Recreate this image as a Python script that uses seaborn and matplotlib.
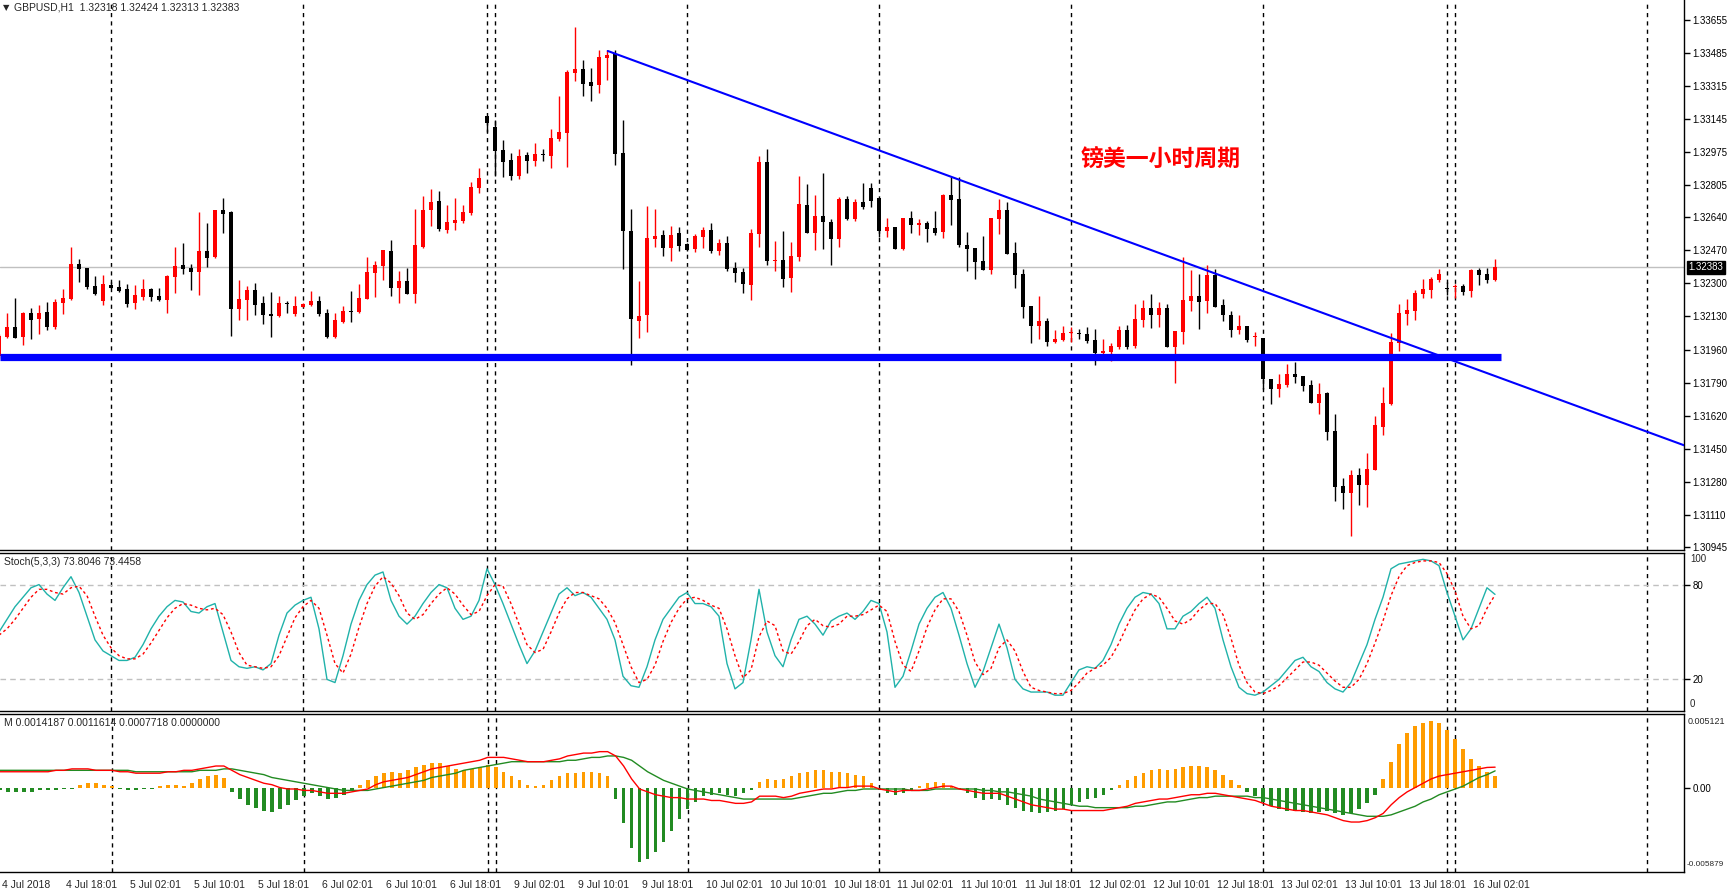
import numpy as np
import pandas as pd
import matplotlib
matplotlib.use('Agg')
import matplotlib.pyplot as plt
import matplotlib.transforms as mtransforms
import seaborn as sns

# GBPUSD H1 bars, 4 Jul 2018 10:00 .. 16 Jul 2018 05:00
opens = [
    1.31927, 1.32025, 1.32076, 1.32025, 1.32147, 1.32116, 1.32152, 1.32076, 1.32199, 1.32219,
    1.32398, 1.32378, 1.32286, 1.32209, 1.32291, 1.32281, 1.32271, 1.32199, 1.32230, 1.32271,
    1.32235, 1.32214, 1.32332, 1.32394, 1.32378, 1.32358, 1.32466, 1.32435, 1.32677, 1.32666,
    1.32168, 1.32214, 1.32266, 1.32199, 1.32142, 1.32132, 1.32199, 1.32142, 1.32178, 1.32188,
    1.32209, 1.32147, 1.32025, 1.32101, 1.32158, 1.32152, 1.32219, 1.32353, 1.32389, 1.32466,
    1.32276, 1.32312, 1.32245, 1.32485, 1.32677, 1.32723, 1.32574, 1.32610, 1.32620, 1.32661,
    1.32790, 1.33160, 1.33103, 1.32985, 1.32934, 1.32851, 1.32959, 1.32929, 1.32965, 1.32954,
    1.33042, 1.33073, 1.33381, 1.33401, 1.33335, 1.33319, 1.33458, 1.33478, 1.32970, 1.32569,
    1.32106, 1.32137, 1.32528, 1.32548, 1.32481, 1.32559, 1.32502, 1.32476, 1.32538, 1.32574,
    1.32466, 1.32507, 1.32378, 1.32358, 1.32291, 1.32554, 1.32924, 1.32414, 1.32420, 1.32327,
    1.32435, 1.32702, 1.32559, 1.32646, 1.32615, 1.32528, 1.32733, 1.32631, 1.32718, 1.32790,
    1.32738, 1.32569, 1.32590, 1.32476, 1.32636, 1.32600, 1.32610, 1.32584, 1.32564, 1.32754,
    1.32733, 1.32497, 1.32481, 1.32414, 1.32368, 1.32631, 1.32677, 1.32456, 1.32348, 1.32183,
    1.32081, 1.32106, 1.31999, 1.32009, 1.32045, 1.32045, 1.32040, 1.32009, 1.31943, 1.31948,
    1.31974, 1.32061, 1.31979, 1.32111, 1.32173, 1.32137, 1.32173, 1.31974, 1.32050, 1.32209,
    1.32235, 1.32209, 1.32343, 1.32188, 1.32137, 1.32061, 1.32081, 1.32025, 1.32020, 1.31809,
    1.31758, 1.31778, 1.31834, 1.31824, 1.31778, 1.31686, 1.31737, 1.31542, 1.31259, 1.31223,
    1.31316, 1.31264, 1.31341, 1.31562, 1.31680, 1.31994, 1.32142, 1.32158, 1.32245, 1.32266,
    1.32317, 1.32276, 1.32281, 1.32286, 1.32260, 1.32368, 1.32348, 1.32318,
]
highs = [
    1.32040, 1.32147, 1.32224, 1.32152, 1.32173, 1.32188, 1.32204, 1.32219, 1.32271, 1.32485,
    1.32425, 1.32378, 1.32337, 1.32343, 1.32306, 1.32317, 1.32296, 1.32291, 1.32322, 1.32276,
    1.32276, 1.32343, 1.32485, 1.32507, 1.32398, 1.32666, 1.32610, 1.32677, 1.32738, 1.32672,
    1.32317, 1.32286, 1.32301, 1.32235, 1.32255, 1.32235, 1.32209, 1.32235, 1.32199, 1.32260,
    1.32235, 1.32168, 1.32147, 1.32183, 1.32260, 1.32296, 1.32435, 1.32414, 1.32471, 1.32522,
    1.32363, 1.32378, 1.32682, 1.32749, 1.32785, 1.32775, 1.32702, 1.32738, 1.32702, 1.32820,
    1.32893, 1.33160, 1.33139, 1.33037, 1.32970, 1.32990, 1.32975, 1.33021, 1.32990, 1.33093,
    1.33263, 1.33396, 1.33617, 1.33448, 1.33407, 1.33499, 1.33499, 1.33499, 1.33139, 1.32682,
    1.32312, 1.32697, 1.32682, 1.32574, 1.32595, 1.32590, 1.32507, 1.32554, 1.32590, 1.32610,
    1.32528, 1.32543, 1.32409, 1.32378, 1.32579, 1.32954, 1.32990, 1.32517, 1.32569, 1.32512,
    1.32851, 1.32810, 1.32754, 1.32867, 1.32631, 1.32744, 1.32749, 1.32733, 1.32816, 1.32816,
    1.32738, 1.32636, 1.32590, 1.32636, 1.32672, 1.32631, 1.32620, 1.32672, 1.32759, 1.32846,
    1.32846, 1.32564, 1.32481, 1.32543, 1.32636, 1.32733, 1.32718, 1.32512, 1.32373, 1.32183,
    1.32235, 1.32122, 1.32061, 1.32081, 1.32076, 1.32066, 1.32076, 1.32066, 1.32015, 1.31994,
    1.32081, 1.32086, 1.32194, 1.32214, 1.32245, 1.32204, 1.32194, 1.32056, 1.32435, 1.32368,
    1.32348, 1.32394, 1.32373, 1.32219, 1.32158, 1.32137, 1.32081, 1.32050, 1.32020, 1.31809,
    1.31834, 1.31886, 1.31896, 1.31824, 1.31804, 1.31788, 1.31742, 1.31629, 1.31300, 1.31341,
    1.31351, 1.31429, 1.31619, 1.31768, 1.32045, 1.32194, 1.32219, 1.32266, 1.32322, 1.32332,
    1.32373, 1.32306, 1.32296, 1.32296, 1.32373, 1.32378, 1.32378, 1.32424,
]
lows = [
    1.31917, 1.32020, 1.32020, 1.31984, 1.32015, 1.32040, 1.32061, 1.32066, 1.32142, 1.32214,
    1.32306, 1.32271, 1.32240, 1.32188, 1.32276, 1.32255, 1.32178, 1.32168, 1.32214, 1.32209,
    1.32209, 1.32147, 1.32250, 1.32348, 1.32266, 1.32240, 1.32384, 1.32430, 1.32558, 1.32030,
    1.32111, 1.32111, 1.32137, 1.32091, 1.32025, 1.32127, 1.32147, 1.32132, 1.32178, 1.32183,
    1.32132, 1.32020, 1.32020, 1.32096, 1.32101, 1.32147, 1.32219, 1.32230, 1.32317, 1.32235,
    1.32199, 1.32245, 1.32199, 1.32481, 1.32595, 1.32569, 1.32559, 1.32574, 1.32610, 1.32651,
    1.32764, 1.33078, 1.32851, 1.32846, 1.32831, 1.32836, 1.32867, 1.32903, 1.32929, 1.32893,
    1.33031, 1.32898, 1.33340, 1.33263, 1.33237, 1.33278, 1.33345, 1.32908, 1.32373, 1.31881,
    1.32020, 1.32050, 1.32485, 1.32440, 1.32414, 1.32466, 1.32466, 1.32461, 1.32481, 1.32456,
    1.32445, 1.32363, 1.32306, 1.32250, 1.32214, 1.32485, 1.32394, 1.32363, 1.32281, 1.32255,
    1.32414, 1.32559, 1.32471, 1.32476, 1.32394, 1.32485, 1.32625, 1.32620, 1.32682, 1.32692,
    1.32538, 1.32538, 1.32476, 1.32471, 1.32559, 1.32548, 1.32512, 1.32548, 1.32533, 1.32600,
    1.32485, 1.32363, 1.32322, 1.32368, 1.32348, 1.32554, 1.32451, 1.32276, 1.32122, 1.31994,
    1.32015, 1.31979, 1.31994, 1.32004, 1.31999, 1.32015, 1.31994, 1.31881, 1.31922, 1.31902,
    1.31963, 1.31963, 1.31969, 1.32076, 1.32071, 1.32076, 1.31974, 1.31788, 1.31989, 1.32158,
    1.32066, 1.32147, 1.32178, 1.32106, 1.32025, 1.32040, 1.31999, 1.31979, 1.31758, 1.31680,
    1.31716, 1.31768, 1.31788, 1.31747, 1.31686, 1.31629, 1.31495, 1.31182, 1.31141, 1.31002,
    1.31162, 1.31151, 1.31341, 1.31521, 1.31675, 1.31953, 1.32086, 1.32111, 1.32224, 1.32224,
    1.32306, 1.32240, 1.32224, 1.32240, 1.32230, 1.32291, 1.32301, 1.32313,
]
closes = [
    1.32030, 1.32076, 1.32020, 1.32147, 1.32111, 1.32147, 1.32076, 1.32204, 1.32224, 1.32398,
    1.32373, 1.32281, 1.32245, 1.32296, 1.32276, 1.32260, 1.32194, 1.32240, 1.32271, 1.32230,
    1.32214, 1.32337, 1.32389, 1.32373, 1.32358, 1.32466, 1.32430, 1.32677, 1.32656, 1.32168,
    1.32219, 1.32266, 1.32188, 1.32137, 1.32132, 1.32199, 1.32194, 1.32183, 1.32194, 1.32209,
    1.32142, 1.32025, 1.32111, 1.32158, 1.32152, 1.32224, 1.32358, 1.32394, 1.32471, 1.32276,
    1.32312, 1.32245, 1.32497, 1.32677, 1.32718, 1.32579, 1.32615, 1.32625, 1.32666, 1.32795,
    1.32841, 1.33124, 1.32980, 1.32924, 1.32851, 1.32954, 1.32929, 1.32965, 1.32959, 1.33047,
    1.33078, 1.33386, 1.33401, 1.33324, 1.33314, 1.33463, 1.33473, 1.32965, 1.32569, 1.32116,
    1.32132, 1.32533, 1.32543, 1.32481, 1.32548, 1.32492, 1.32471, 1.32543, 1.32574, 1.32466,
    1.32507, 1.32373, 1.32353, 1.32296, 1.32559, 1.32924, 1.32414, 1.32420, 1.32322, 1.32440,
    1.32708, 1.32559, 1.32646, 1.32615, 1.32528, 1.32733, 1.32631, 1.32718, 1.32692, 1.32723,
    1.32569, 1.32590, 1.32476, 1.32636, 1.32600, 1.32610, 1.32579, 1.32559, 1.32754, 1.32728,
    1.32497, 1.32476, 1.32409, 1.32368, 1.32636, 1.32677, 1.32451, 1.32343, 1.32178, 1.32081,
    1.32106, 1.31999, 1.32015, 1.32045, 1.32050, 1.32040, 1.32004, 1.31943, 1.31953, 1.31979,
    1.32061, 1.31974, 1.32116, 1.32173, 1.32137, 1.32173, 1.31974, 1.32056, 1.32214, 1.32235,
    1.32204, 1.32343, 1.32178, 1.32137, 1.32061, 1.32081, 1.32009, 1.32030, 1.31809, 1.31758,
    1.31783, 1.31834, 1.31819, 1.31773, 1.31686, 1.31732, 1.31537, 1.31254, 1.31223, 1.31316,
    1.31264, 1.31346, 1.31572, 1.31686, 1.31999, 1.32147, 1.32163, 1.32250, 1.32271, 1.32322,
    1.32348, 1.32271, 1.32286, 1.32255, 1.32368, 1.32343, 1.32317, 1.32383,
]

# Stoch(5,3,3): %K (main) and %D (signal), read per bar
stoch_k = [
    50, 58, 66, 72, 78, 80, 74, 70, 78, 85, 75, 60, 45, 38, 35, 32, 32, 34, 42, 52,
    60, 66, 70, 69, 63, 62, 66, 68, 50, 32, 28, 27, 28, 26, 30, 48, 62, 67, 70, 72,
    52, 20, 18, 35, 55, 70, 80, 86, 88, 70, 60, 55, 60, 68, 75, 80, 78, 65, 58, 60,
    70, 90, 80, 68, 55, 42, 30, 38, 50, 62, 74, 78, 73, 75, 72, 65, 58, 45, 22, 16,
    15, 28, 45, 58, 65, 72, 75, 68, 68, 66, 60, 30, 14, 18, 45, 77, 50, 35, 28, 45,
    58, 60, 55, 48, 57, 60, 62, 58, 63, 70, 68, 50, 15, 22, 38, 55, 65, 72, 75, 65,
    48, 30, 15, 25, 40, 55, 40, 20, 14, 12, 12, 12, 10, 10, 18, 26, 28, 27, 32, 42,
    55, 65, 72, 75, 74, 68, 52, 52, 60, 63, 68, 72, 65, 45, 28, 15, 11, 10, 12, 16,
    20, 26, 32, 34, 28, 25, 18, 14, 12, 18, 30, 42, 58, 72, 90, 93, 94, 95, 96, 95,
    92, 75, 60, 45, 52, 65, 78, 73.8046,
]
stoch_d = [
    48, 52, 58, 65, 72, 77, 77, 75, 74, 78, 79, 73, 60, 48, 40, 35, 33, 33, 36, 43,
    51, 59, 65, 68, 67, 65, 64, 65, 61, 50, 37, 29, 28, 27, 28, 35, 47, 59, 66, 70,
    65, 48, 30, 24, 36, 53, 68, 79, 85, 81, 73, 62, 58, 61, 68, 74, 78, 74, 67, 61,
    63, 73, 80, 79, 68, 55, 42, 37, 39, 50, 62, 71, 75, 75, 73, 71, 65, 56, 42, 28,
    18, 20, 29, 44, 56, 65, 71, 72, 70, 67, 65, 52, 35, 21, 26, 47, 57, 54, 38, 36,
    44, 54, 58, 54, 53, 55, 60, 60, 61, 64, 67, 63, 44, 29, 25, 38, 53, 64, 71, 71,
    63, 48, 31, 23, 27, 40, 45, 38, 25, 15, 13, 12, 11, 11, 13, 18, 24, 27, 29, 34,
    43, 54, 64, 71, 74, 72, 65, 57, 55, 58, 64, 68, 68, 61, 46, 29, 18, 12, 11, 13,
    16, 21, 26, 31, 31, 29, 24, 19, 15, 15, 20, 30, 43, 57, 73, 85, 92, 94, 95, 95,
    94, 87, 76, 60, 52, 54, 65, 73.4458,
]

# MACD: main line, signal line and histogram, read per bar
macd_main = [
    0.0011, 0.0011, 0.0011, 0.0011, 0.0011, 0.0011, 0.0011, 0.0012, 0.0012, 0.0013,
    0.0013, 0.0013, 0.0012, 0.0012, 0.0012, 0.0011, 0.0011, 0.0010, 0.0010, 0.0010,
    0.0010, 0.0011, 0.0011, 0.0012, 0.0012, 0.0013, 0.0014, 0.0015, 0.0015, 0.0012,
    0.0009, 0.0007, 0.0005, 0.0003, 0.0002, 0.0000, -0.0001, -0.0001, -0.0002, -0.0002,
    -0.0003, -0.0004, -0.0004, -0.0004, -0.0003, -0.0002, -0.0001, 0.0002, 0.0004, 0.0005,
    0.0006, 0.0007, 0.0009, 0.0011, 0.0013, 0.0014, 0.0015, 0.0016, 0.0017, 0.0018,
    0.0019, 0.0021, 0.0021, 0.0021, 0.0020, 0.0019, 0.0018, 0.0018, 0.0018, 0.0019,
    0.0020, 0.0022, 0.0023, 0.0024, 0.0024, 0.0025, 0.0025, 0.0022, 0.0015, 0.0006,
    -0.0001, -0.0003, -0.0005, -0.0006, -0.0007, -0.0007, -0.0008, -0.0008, -0.0008, -0.0009,
    -0.0009, -0.0010, -0.0011, -0.0011, -0.0010, -0.0006, -0.0006, -0.0006, -0.0007, -0.0006,
    -0.0004, -0.0003, -0.0002, -0.0001, -0.0001, 0.0000, 0.0000, 0.0001, 0.0001, 0.0001,
    -0.0001, -0.0002, -0.0003, -0.0002, -0.0002, -0.0002, -0.0001, 0.0000, 0.0001, 0.0001,
    -0.0001, -0.0002, -0.0003, -0.0004, -0.0004, -0.0004, -0.0006, -0.0008, -0.0010, -0.0012,
    -0.0013, -0.0014, -0.0015, -0.0015, -0.0016, -0.0016, -0.0016, -0.0016, -0.0016, -0.0015,
    -0.0014, -0.0013, -0.0011, -0.0010, -0.0009, -0.0008, -0.0008, -0.0007, -0.0006, -0.0005,
    -0.0005, -0.0004, -0.0004, -0.0005, -0.0006, -0.0007, -0.0008, -0.0009, -0.0011, -0.0013,
    -0.0014, -0.0015, -0.0016, -0.0016, -0.0017, -0.0018, -0.0019, -0.0021, -0.0023, -0.0024,
    -0.0024, -0.0023, -0.0021, -0.0018, -0.0012, -0.0007, -0.0003, 0.0000, 0.0003, 0.0006,
    0.0008, 0.0009, 0.0010, 0.0011, 0.0012, 0.0013, 0.0014, 0.0014187,
]
macd_signal = [
    0.0012, 0.0012, 0.0012, 0.0012, 0.0012, 0.0012, 0.0012, 0.0012, 0.0012, 0.0012,
    0.0012, 0.0012, 0.0012, 0.0012, 0.0012, 0.0012, 0.0012, 0.0011, 0.0011, 0.0011,
    0.0011, 0.0011, 0.0011, 0.0011, 0.0011, 0.0012, 0.0012, 0.0012, 0.0013, 0.0013,
    0.0012, 0.0011, 0.0010, 0.0009, 0.0007, 0.0006, 0.0005, 0.0004, 0.0003, 0.0002,
    0.0001, 0.0000, -0.0001, -0.0002, -0.0002, -0.0002, -0.0002, -0.0001, 0.0000, 0.0001,
    0.0002, 0.0003, 0.0004, 0.0005, 0.0007, 0.0008, 0.0009, 0.0010, 0.0012, 0.0013,
    0.0014, 0.0015, 0.0016, 0.0017, 0.0018, 0.0018, 0.0018, 0.0018, 0.0018, 0.0018,
    0.0018, 0.0019, 0.0019, 0.0020, 0.0021, 0.0021, 0.0022, 0.0022, 0.0021, 0.0019,
    0.0015, 0.0011, 0.0008, 0.0005, 0.0003, 0.0001, -0.0001, -0.0002, -0.0003, -0.0004,
    -0.0005, -0.0006, -0.0007, -0.0008, -0.0008, -0.0008, -0.0008, -0.0008, -0.0008, -0.0008,
    -0.0007, -0.0006, -0.0005, -0.0004, -0.0004, -0.0003, -0.0002, -0.0002, -0.0001, -0.0001,
    -0.0001, -0.0001, -0.0001, -0.0001, -0.0002, -0.0002, -0.0002, -0.0001, -0.0001, -0.0001,
    -0.0001, -0.0001, -0.0001, -0.0002, -0.0002, -0.0003, -0.0003, -0.0004, -0.0005, -0.0006,
    -0.0008, -0.0009, -0.0010, -0.0011, -0.0012, -0.0013, -0.0013, -0.0014, -0.0014, -0.0014,
    -0.0014, -0.0014, -0.0013, -0.0013, -0.0012, -0.0011, -0.0010, -0.0010, -0.0009, -0.0008,
    -0.0007, -0.0007, -0.0006, -0.0006, -0.0006, -0.0006, -0.0006, -0.0007, -0.0007, -0.0008,
    -0.0009, -0.0010, -0.0011, -0.0012, -0.0013, -0.0014, -0.0015, -0.0016, -0.0017, -0.0018,
    -0.0019, -0.0020, -0.0020, -0.0020, -0.0019, -0.0017, -0.0015, -0.0013, -0.0010, -0.0008,
    -0.0005, -0.0003, -0.0001, 0.0001, 0.0004, 0.0007, 0.0009, 0.0011614,
]
macd_hist = [
    -0.0002, -0.0003, -0.0003, -0.0003, -0.0003, -0.0002, -0.0002, -0.0002, -0.0001, -0.0001,
    0.0002, 0.0003, 0.0003, 0.0002, 0.0001,
    -0.0001, -0.0002, -0.0002, -0.0001, -0.0001, 0.0001, 0.0002, 0.0002, 0.0001,
    0.0003, 0.0006, 0.0008, 0.0009, 0.0007,
    -0.0003, -0.0008, -0.0012, -0.0014, -0.0016, -0.0017, -0.0015, -0.0012, -0.0009, -0.0006,
    -0.0004, -0.0006, -0.0008, -0.0007, -0.0005, -0.0002,
    0.0002, 0.0005, 0.0008, 0.0010, 0.0011, 0.0010, 0.0012, 0.0014, 0.0016, 0.0017,
    0.0017, 0.0015, 0.0013, 0.0012, 0.0013, 0.0014,
    0.0016, 0.0014, 0.0011, 0.0008, 0.0005, 0.0002, 0.0001, 0.0002,
    0.0005, 0.0008, 0.0010, 0.0010, 0.0011, 0.0011, 0.0010, 0.0008,
    -0.0008, -0.0025, -0.0042, -0.0052, -0.0050, -0.0045, -0.0038, -0.0030, -0.0022, -0.0015,
    -0.0010, -0.0006, -0.0005, -0.0004, -0.0005, -0.0006, -0.0004, -0.0002,
    0.0004, 0.0006, 0.0005, 0.0006, 0.0008, 0.0010, 0.0011, 0.0012, 0.0012, 0.0011,
    0.0011, 0.0010, 0.0009, 0.0008,
    0.0003, -0.0002, -0.0004, -0.0005, -0.0004, -0.0002, 0.0001, 0.0003, 0.0004, 0.0003,
    0.0001, -0.0001,
    -0.0004, -0.0007, -0.0009, -0.0008, -0.0009, -0.0012, -0.0014, -0.0016, -0.0017, -0.0018,
    -0.0017, -0.0016, -0.0015, -0.0012, -0.0010, -0.0008, -0.0007, -0.0005, -0.0002,
    0.0002, 0.0005, 0.0008, 0.0010, 0.0012, 0.0013, 0.0012, 0.0013, 0.0014, 0.0015,
    0.0015, 0.0014, 0.0012, 0.0009, 0.0005, 0.0002,
    -0.0003, -0.0006, -0.0010, -0.0013, -0.0015, -0.0016, -0.0016, -0.0017, -0.0018, -0.0017,
    -0.0016, -0.0018, -0.0019, -0.0018, -0.0015, -0.0011, -0.0005,
    0.0006, 0.0018, 0.0030, 0.0038, 0.0043, 0.0045, 0.0046, 0.0045, 0.0040, 0.0034,
    0.0027, 0.0020, 0.0015, 0.0011, 0.0007718,
]

price_ticks = [1.33655, 1.33485, 1.33315, 1.33145, 1.32975, 1.32805, 1.32640, 1.32470,
               1.32300, 1.32130, 1.31960, 1.31790, 1.31620, 1.31450, 1.31280, 1.31110, 1.30945]
time_labels = ['4 Jul 2018', '4 Jul 18:01', '5 Jul 02:01', '5 Jul 10:01', '5 Jul 18:01',
               '6 Jul 02:01', '6 Jul 10:01', '6 Jul 18:01', '9 Jul 02:01', '9 Jul 10:01',
               '9 Jul 18:01', '10 Jul 02:01', '10 Jul 10:01', '10 Jul 18:01', '11 Jul 02:01',
               '11 Jul 10:01', '11 Jul 18:01', '12 Jul 02:01', '12 Jul 10:01', '12 Jul 18:01',
               '13 Jul 02:01', '13 Jul 10:01', '13 Jul 18:01', '16 Jul 02:01']
time_label_bars = [0, 8, 16, 24, 32, 40, 48, 56, 64, 72, 80, 88, 96, 104, 112, 120,
                   128, 136, 144, 152, 160, 168, 176, 184]
day_separator_bars = [14, 38, 61, 62, 86, 110, 134, 158, 181, 182, 206]

support_level = 1.31921
support_end_bar = 187.75
trend_bars = [76.1, 210.9]
trend_prices = [1.33494, 1.31464]
last_price = 1.32383

df = pd.DataFrame({'open': opens, 'high': highs, 'low': lows, 'close': closes,
                   'k': stoch_k, 'd': stoch_d, 'macd': macd_main, 'signal': macd_signal,
                   'hist': macd_hist})
df['bar'] = np.arange(len(df))
df['up'] = df['close'] >= df['open']

sns.set_style('white')
plt.rcParams['font.family'] = ['Liberation Sans', 'DejaVu Sans']

W, H = 1727, 894
fig = plt.figure(figsize=(W / 100, H / 100), dpi=100)


def px_axes(x0, y0, x1, y1):
    return fig.add_axes([x0 / W, 1 - y1 / H, (x1 - x0) / W, (y1 - y0) / H])


ax1 = px_axes(0, 0, 1684, 550)
ax2 = px_axes(0, 553, 1684, 711)
ax3 = px_axes(0, 714, 1684, 872)

xlim = (0.125, 210.625)
for ax in (ax1, ax2, ax3):
    ax.set_xlim(*xlim)
    ax.set_facecolor('white')
    for s in ax.spines.values():
        s.set_color('black')
        s.set_linewidth(1)
    ax.spines['left'].set_visible(False)
    ax.yaxis.tick_right()
    ax.tick_params(axis='y', direction='out', length=4, width=1, labelsize=7, pad=2,
                   colors='black')
    for b in day_separator_bars:
        ax.axvline(b, color='black', lw=1, ls=(0, (3, 3)), zorder=1)
ax1.spines['top'].set_visible(False)
ax1.set_xticks([])
ax2.set_xticks([])

# --- price panel
ax1.set_ylim(1.30930, 1.33756)
ax1.set_yticks(price_ticks)
ax1.set_yticklabels([f'{p:.5f}' for p in price_ticks])
ax1.axhline(last_price, color='#c0c0c0', lw=1, zorder=1)

colors = np.where(df['up'], '#ff0000', '#000000')
ax1.vlines(df['bar'], df['low'], df['high'], colors=colors, lw=1, zorder=3)
body = (df['close'] - df['open']).abs().clip(lower=0.00005)
ax1.bar(df['bar'], body, bottom=df[['open', 'close']].min(axis=1), width=0.62,
        color=colors, linewidth=0, zorder=4)

ax1.plot([xlim[0], support_end_bar], [support_level, support_level], color='#0000ff',
         lw=5.2, solid_capstyle='butt', zorder=5)
ax1.plot(trend_bars, trend_prices, color='#0000ff', lw=1.5, zorder=5)

ax1.annotate(f'{last_price:.5f}', xy=(1.0, last_price), xycoords=('axes fraction', 'data'),
             xytext=(3, 0), textcoords='offset points', va='center', ha='left',
             fontsize=7, color='white', annotation_clip=False,
             bbox=dict(boxstyle='square,pad=0.15', fc='black', ec='black'))

fig.text(3 / W, 1 - 8 / H, '\u25bc', fontsize=6, family=['DejaVu Sans'], va='center')
fig.text(14 / W, 1 - 8 / H, 'GBPUSD,H1  1.32318 1.32424 1.32313 1.32383', fontsize=7.5,
         va='center')
fig.text(1081 / W, 1 - 160 / H, '镑美一小时周期', fontsize=16.5, color='#ff0000',
         fontweight='bold', family=['Noto Sans CJK SC', 'DejaVu Sans'], va='center')

# --- stochastic panel
ax2.set_ylim(0, 100)
ax2.set_yticks([80, 20])
ax2.set_yticklabels(['80', '20'])
for lvl in (80, 20):
    ax2.axhline(lvl, color='#c0c0c0', lw=1, ls=(0, (4, 3)), zorder=1)
sns.lineplot(data=df, x='bar', y='k', ax=ax2, color='#20b2aa', lw=1, zorder=3)
sns.lineplot(data=df, x='bar', y='d', ax=ax2, color='#ff0000', lw=1, ls=(0, (2, 2)),
             zorder=4)
ax2.set_xlabel('')
ax2.set_ylabel('')
ax2.set_xlim(*xlim)
ax2.set_xticks([])
for lab, ypx in (('100', 6), ('0', 151)):
    ax2.text(1690 / 1684, 1 - ypx / 158, lab, transform=ax2.transAxes, fontsize=7,
             va='center', ha='left')
ax2.text(4 / 1684, 1 - 9 / 158, 'Stoch(5,3,3) 73.8046 73.4458', transform=ax2.transAxes,
         fontsize=7.5, va='center')

# --- MACD panel
ax3.set_ylim(-0.005879, 0.005121)
hist_colors = np.where(df['hist'] >= 0, '#ff9c00', '#228b22')
ax3.bar(df['bar'], df['hist'], width=0.45, color=hist_colors, linewidth=0, zorder=2)
sns.lineplot(data=df, x='bar', y='signal', ax=ax3, color='#228b22', lw=1, zorder=3)
sns.lineplot(data=df, x='bar', y='macd', ax=ax3, color='#ff0000', lw=1, zorder=4)
ax3.set_xlabel('')
ax3.set_ylabel('')
ax3.set_xlim(*xlim)
ax3.set_yticks([0.0])
ax3.set_yticklabels(['0.00'])
ax3.text(1688 / 1684, 1 - 7 / 158, '0.005121', transform=ax3.transAxes, fontsize=6.5,
         va='center', ha='left')
ax3.text(1687 / 1684, 1 - 151 / 158, '-0.005879', transform=ax3.transAxes, fontsize=5.9,
         va='center', ha='left')
ax3.text(4 / 1684, 1 - 9 / 158, 'M 0.0014187 0.0011614 0.0007718 0.0000000',
         transform=ax3.transAxes, fontsize=7.5, va='center')

ax3.set_xticks(time_label_bars)
ax3.set_xticklabels(time_labels, ha='left', fontsize=7.5)
ax3.tick_params(axis='x', direction='out', length=4, width=1, pad=2)
shift = mtransforms.ScaledTranslation(2 / 100, 0, fig.dpi_scale_trans)
for lab in ax3.get_xticklabels():
    lab.set_transform(lab.get_transform() + shift)

fig.savefig('out.png', dpi=100, facecolor='white')
